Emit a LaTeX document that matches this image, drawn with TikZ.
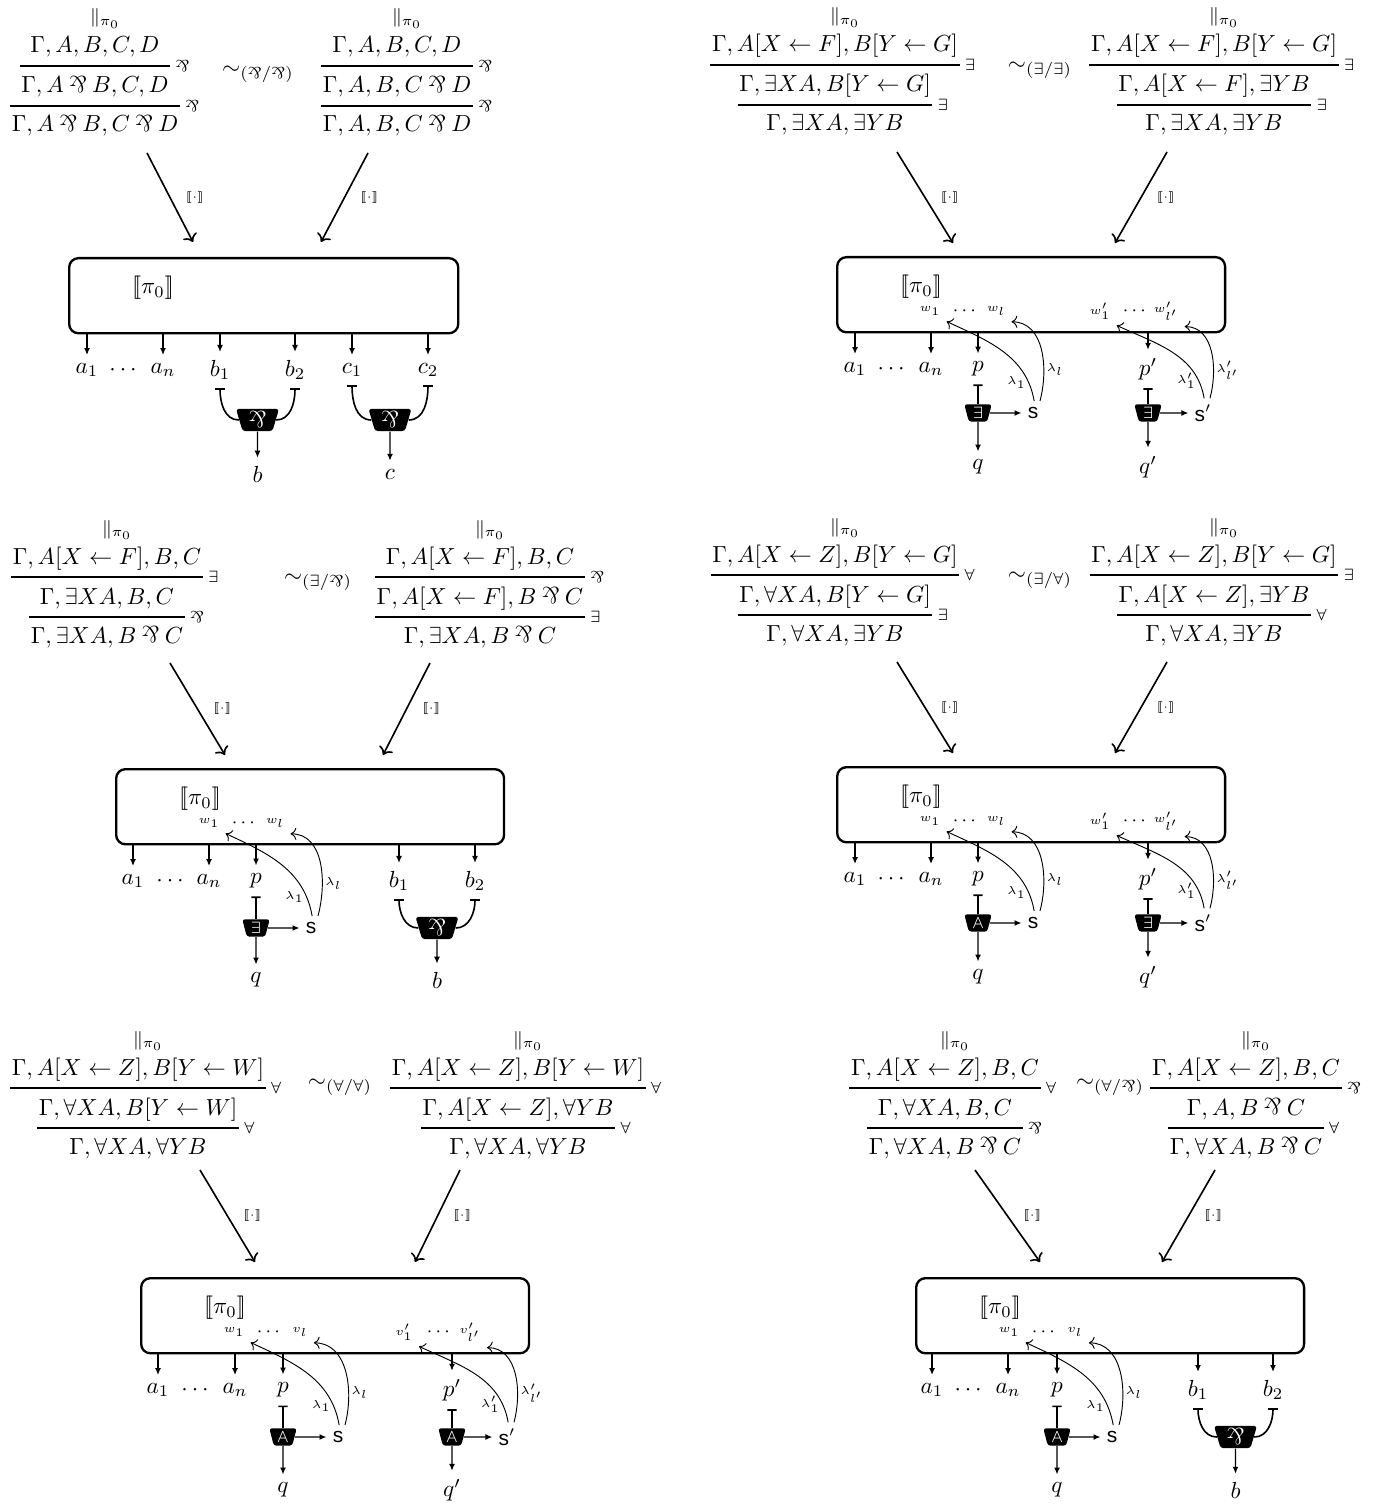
\documentclass[tikz,border=0pt]{standalone}
\usepackage{amsmath}
\usepackage{fontspec}
\setsansfont{Liberation Sans}
\usepackage{graphicx}
\usetikzlibrary{arrows.meta,positioning,shapes.geometric}
\newcommand{\invand}{\mathbin{\text{\rotatebox[origin=c]{180}{\&}}}}
\newcommand{\sem}[1]{[\![#1]\!]}
\newcommand{\pibar}{\footnotesize$\Vert\rlap{$_{\pi_0}$}$}
\newcommand{\flipall}{\scalebox{1}[-1]{$\forall$}}

\begin{document}
\begin{tikzpicture}[x=0.43pt,y=0.43pt,
  seq/.style={anchor=base, inner sep=0.5pt},
  rule/.style={line width=0.5pt},
  rlab/.style={right=1pt, font=\scriptsize, inner sep=1pt},
  semarr/.style={->, line width=0.7pt},
  semlab/.style={midway, right=3pt, font=\tiny},
  box/.style={draw, line width=1pt, rounded corners=4pt, anchor=north west, minimum width=166.8pt, minimum height=32.3pt},
  outarr/.style={-{Latex[length=3pt,width=2.6pt]}, line width=0.6pt},
  wire/.style={{Bar[width=4pt]}-, line width=0.7pt},
  parlink/.style={trapezium, trapezium stretches=true, trapezium left angle=77, trapezium right angle=77,
    shape border rotate=180, fill=black, text=white, rounded corners=1.2pt, inner sep=0pt,
    minimum width=18.5pt, minimum height=9.5pt},
  qlink/.style={parlink, minimum width=11.8pt, minimum height=7.5pt, font=\scriptsize},
  snode/.style={font=\sffamily\small, inner sep=2.5pt},
  inlab/.style={font=\tiny, inner sep=2.5pt},
  lam/.style={->, thin},
  lamlab/.style={font=\tiny, inner sep=1pt}]
\useasboundingbox (0,0) rectangle (1390,-1510);

% ---------- (par/par) ----------
\begin{scope}[shift={(68,-257)}, name prefix=a-]
\coordinate (ru1) at (0,191); \coordinate (ru2) at (0,151);
\node[seq] (l0) at (27,234) {\pibar};
\node[seq] (l1) at (27,204) {$\Gamma,A,B,C,D$};
\node[seq] (l2) at (27,164) {$\Gamma,A\invand B,C,D$};
\node[seq] (l3) at (27,125) {$\Gamma,A\invand B,C\invand D$};
\draw[rule] (l2.west |- ru1) -- (l2.east |- ru1) node[rlab] (l1r) {$\invand$};
\draw[rule] (l3.west |- ru2) -- (l3.east |- ru2) node[rlab] (l2r) {$\invand$};
\node[seq] (r0) at (329,234) {\pibar};
\node[seq] (r1) at (329,204) {$\Gamma,A,B,C,D$};
\node[seq] (r2) at (329,164) {$\Gamma,A,B,C\invand D$};
\node[seq] (r3) at (329,125) {$\Gamma,A,B,C\invand D$};
\draw[rule] (r2.west |- ru1) -- (r2.east |- ru1) node[rlab] (r1r) {$\invand$};
\draw[rule] (r3.west |- ru2) -- (r3.east |- ru2) node[rlab] (r2r) {$\invand$};
\node (sim) at (190,183) {$\sim_{(\invand/\invand)}$};
\coordinate (s0) at (79,104); \coordinate (s1) at (125,15);
\coordinate (t0) at (300,104); \coordinate (t1) at (253,15);
\draw[semarr] (s0) -- (s1) node[semlab] (sl) {$\sem{\cdot}$};
\draw[semarr] (t0) -- (t1) node[semlab] (tl) {$\sem{\cdot}$};
% net
\node[box, minimum width=167.3pt] (box) at (0,0) {};
\node (pi) at (85,-31) {$\sem{\pi_0}$};
\node (a1) at (19,-113) {$a_1$};
\node (dots) at (57,-113) {$\cdots$};
\node (an) at (95,-113) {$a_n$};
\node (b1) at (152,-113) {$b_1$};
\node (b2) at (227,-113) {$b_2$};
\node (c1) at (284,-113) {$c_1$};
\node (c2) at (360,-113) {$c_2$};
\foreach \n in {a1,an,b1,b2,c1,c2} \draw[outarr] (\n |- box.south) -- (\n);
\node[parlink] (parb) at (189.5,-163) {$\invand$};
\node[parlink] (parc) at (322,-163) {$\invand$};
\node (b) at (189.5,-217) {$b$};
\node (c) at (322,-217) {$c$};
\draw[wire] (b1.south) to[out=-90,in=180] (parb.west);
\draw[wire] (b2.south) to[out=-90,in=0] (parb.east);
\draw[wire] (c1.south) to[out=-90,in=180] (parc.west);
\draw[wire] (c2.south) to[out=-90,in=0] (parc.east);
\draw[outarr] (parb) -- (b);
\draw[outarr] (parc) -- (c);
\end{scope}

% ---------- (exists/exists) ----------
\begin{scope}[shift={(836,-256)}, name prefix=b-]
\coordinate (ru1) at (0,191); \coordinate (ru2) at (0,151);
\node[seq] (l0) at (-1,234) {\pibar};
\node[seq] (l1) at (-1,204) {$\Gamma,A[X\leftarrow F],B[Y\leftarrow G]$};
\node[seq] (l2) at (-1,164) {$\Gamma,\exists XA,B[Y\leftarrow G]$};
\node[seq] (l3) at (-1,125) {$\Gamma,\exists XA,\exists YB$};
\draw[rule] (l1.west |- ru1) -- (l1.east |- ru1) node[rlab] (l1r) {$\exists$};
\draw[rule] (l2.west |- ru2) -- (l2.east |- ru2) node[rlab] (l2r) {$\exists$};
\node[seq] (r0) at (378,234) {\pibar};
\node[seq] (r1) at (378,204) {$\Gamma,A[X\leftarrow F],B[Y\leftarrow G]$};
\node[seq] (r2) at (378,164) {$\Gamma,A[X\leftarrow F],\exists YB$};
\node[seq] (r3) at (378,125) {$\Gamma,\exists XA,\exists YB$};
\draw[rule] (r1.west |- ru1) -- (r1.east |- ru1) node[rlab] (r1r) {$\exists$};
\draw[rule] (r2.west |- ru2) -- (r2.east |- ru2) node[rlab] (r2r) {$\exists$};
\node (sim) at (204,186) {$\sim_{(\exists/\exists)}$};
\coordinate (s0) at (61,104); \coordinate (s1) at (117,13);
\coordinate (t0) at (331,104); \coordinate (t1) at (279,13);
\draw[semarr] (s0) -- (s1) node[semlab] (sl) {$\sem{\cdot}$};
\draw[semarr] (t0) -- (t1) node[semlab] (tl) {$\sem{\cdot}$};
% net
\node[box] (box) at (0,0) {};
\node (pi) at (85,-31) {$\sem{\pi_0}$};
\node (a1) at (19,-113) {$a_1$};
\node (dots) at (57,-113) {$\cdots$};
\node (an) at (95,-113) {$a_n$};
\node (p) at (142,-113) {$p$};
\node (pp) at (312,-113) {$p'$};
\foreach \n in {a1,an,p,pp} \draw[outarr] (\n |- box.south) -- (\n);
\node[inlab] (w1) at (94,-55) {$w_1$};
\node[inlab, font=\footnotesize] (wd) at (130,-55) {$\cdots$};
\node[inlab] (wl) at (160,-55) {$w_l$};
\node[inlab] (v1) at (264,-55) {$w'_1$};
\node[inlab, font=\footnotesize] (vd) at (300,-55) {$\cdots$};
\node[inlab] (vl) at (330,-55) {$w'_{l'}$};
\node[qlink] (ex) at (142,-157) {$\exists$};
\node[qlink] (exx) at (312,-157) {$\exists$};
\node[snode] (s) at (197,-157) {s};
\node[snode] (ss) at (367,-157) {s$'$};
\node (q) at (142,-211) {$q$};
\node (qq) at (312,-211) {$q'$};
\draw[wire] (p.south) -- (ex);
\draw[wire] (pp.south) -- (exx);
\draw[outarr] (ex) -- (q);
\draw[outarr] (exx) -- (qq);
\draw[outarr] (ex) -- (s);
\draw[outarr] (exx) -- (ss);
\draw[lam] ([xshift=0.5pt]s.north) to[out=100,in=-25] node[pos=0.15,left,lamlab] (la) {$\lambda_1$} (w1.south east);
\draw[lam] ([xshift=3pt]s.north) to[out=75,in=0] node[pos=0.3,right,lamlab] (lb) {$\lambda_l$} (wl.south east);
\draw[lam] ([xshift=0.5pt]ss.north) to[out=100,in=-25] node[pos=0.15,left,lamlab] (lc) {$\lambda'_1$} (v1.south east);
\draw[lam] ([xshift=3pt]ss.north) to[out=75,in=0] node[pos=0.3,right,lamlab] (ld) {$\lambda'_{l'}$} (vl.south east);
\end{scope}

% ---------- (exists/par) ----------
\begin{scope}[shift={(115,-768)}, name prefix=c-]
\coordinate (ru1) at (0,191); \coordinate (ru2) at (0,151);
\node[seq] (l0) at (-8,234) {\pibar};
\node[seq] (l1) at (-8,204) {$\Gamma,A[X\leftarrow F],B,C$};
\node[seq] (l2) at (-8,164) {$\Gamma,\exists XA,B,C$};
\node[seq] (l3) at (-8,125) {$\Gamma,\exists XA,B\invand C$};
\draw[rule] (l1.west |- ru1) -- (l1.east |- ru1) node[rlab] (l1r) {$\exists$};
\draw[rule] (l3.west |- ru2) -- (l3.east |- ru2) node[rlab] (l2r) {$\invand$};
\node[seq] (r0) at (365,234) {\pibar};
\node[seq] (r1) at (365,204) {$\Gamma,A[X\leftarrow F],B,C$};
\node[seq] (r2) at (365,164) {$\Gamma,A[X\leftarrow F],B\invand C$};
\node[seq] (r3) at (365,125) {$\Gamma,\exists XA,B\invand C$};
\draw[rule] (r2.west |- ru1) -- (r2.east |- ru1) node[rlab] (r1r) {$\invand$};
\draw[rule] (r2.west |- ru2) -- (r2.east |- ru2) node[rlab] (r2r) {$\exists$};
\node (sim) at (203,186) {$\sim_{(\exists/\invand)}$};
\coordinate (s0) at (55,105); \coordinate (s1) at (110,13);
\coordinate (t0) at (315,105); \coordinate (t1) at (268,13);
\draw[semarr] (s0) -- (s1) node[semlab] (sl) {$\sem{\cdot}$};
\draw[semarr] (t0) -- (t1) node[semlab] (tl) {$\sem{\cdot}$};
% net
\node[box] (box) at (0,0) {};
\node (pi) at (85,-31) {$\sem{\pi_0}$};
\node (a1) at (18,-113) {$a_1$};
\node (dots) at (57,-113) {$\cdots$};
\node (an) at (94,-113) {$a_n$};
\node (p) at (141,-113) {$p$};
\node (b1) at (284,-113) {$b_1$};
\node (b2) at (360,-113) {$b_2$};
\foreach \n in {a1,an,p,b1,b2} \draw[outarr] (\n |- box.south) -- (\n);
\node[inlab] (w1) at (94,-55) {$w_1$};
\node[inlab, font=\footnotesize] (wd) at (130,-55) {$\cdots$};
\node[inlab] (wl) at (160,-55) {$w_l$};
\node[qlink] (ex) at (141,-160) {$\exists$};
\node[snode] (s) at (196,-160) {s};
\node (q) at (141,-212) {$q$};
\node[parlink] (par) at (322,-160) {$\invand$};
\node (b) at (322,-212) {$b$};
\draw[wire] (p.south) -- (ex);
\draw[outarr] (ex) -- (q);
\draw[outarr] (ex) -- (s);
\draw[lam] ([xshift=0.5pt]s.north) to[out=100,in=-25] node[pos=0.15,left,lamlab] (la) {$\lambda_1$} (w1.south east);
\draw[lam] ([xshift=3pt]s.north) to[out=75,in=0] node[pos=0.3,right,lamlab] (lb) {$\lambda_l$} (wl.south east);
\draw[wire] (b1.south) to[out=-90,in=180] (par.west);
\draw[wire] (b2.south) to[out=-90,in=0] (par.east);
\draw[outarr] (par) -- (b);
\end{scope}

% ---------- (exists/forall) ----------
\begin{scope}[shift={(836,-766)}, name prefix=d-]
\coordinate (ru1) at (0,191); \coordinate (ru2) at (0,151);
\node[seq] (l0) at (-1,234) {\pibar};
\node[seq] (l1) at (-1,204) {$\Gamma,A[X\leftarrow Z],B[Y\leftarrow G]$};
\node[seq] (l2) at (-1,164) {$\Gamma,\forall XA,B[Y\leftarrow G]$};
\node[seq] (l3) at (-1,125) {$\Gamma,\forall XA,\exists YB$};
\draw[rule] (l1.west |- ru1) -- (l1.east |- ru1) node[rlab] (l1r) {$\forall$};
\draw[rule] (l2.west |- ru2) -- (l2.east |- ru2) node[rlab] (l2r) {$\exists$};
\node[seq] (r0) at (378,234) {\pibar};
\node[seq] (r1) at (378,204) {$\Gamma,A[X\leftarrow Z],B[Y\leftarrow G]$};
\node[seq] (r2) at (378,164) {$\Gamma,A[X\leftarrow Z],\exists YB$};
\node[seq] (r3) at (378,125) {$\Gamma,\forall XA,\exists YB$};
\draw[rule] (r1.west |- ru1) -- (r1.east |- ru1) node[rlab] (r1r) {$\exists$};
\draw[rule] (r2.west |- ru2) -- (r2.east |- ru2) node[rlab] (r2r) {$\forall$};
\node (sim) at (204,186) {$\sim_{(\exists/\forall)}$};
\coordinate (s0) at (61,104); \coordinate (s1) at (117,13);
\coordinate (t0) at (331,104); \coordinate (t1) at (279,13);
\draw[semarr] (s0) -- (s1) node[semlab] (sl) {$\sem{\cdot}$};
\draw[semarr] (t0) -- (t1) node[semlab] (tl) {$\sem{\cdot}$};
% net
\node[box] (box) at (0,0) {};
\node (pi) at (85,-31) {$\sem{\pi_0}$};
\node (a1) at (19,-113) {$a_1$};
\node (dots) at (57,-113) {$\cdots$};
\node (an) at (95,-113) {$a_n$};
\node (p) at (142,-113) {$p$};
\node (pp) at (312,-113) {$p'$};
\foreach \n in {a1,an,p,pp} \draw[outarr] (\n |- box.south) -- (\n);
\node[inlab] (w1) at (94,-55) {$w_1$};
\node[inlab, font=\footnotesize] (wd) at (130,-55) {$\cdots$};
\node[inlab] (wl) at (160,-55) {$w_l$};
\node[inlab] (v1) at (264,-55) {$w'_1$};
\node[inlab, font=\footnotesize] (vd) at (300,-55) {$\cdots$};
\node[inlab] (vl) at (330,-55) {$w'_{l'}$};
\node[qlink] (fa) at (142,-157) {\flipall};
\node[qlink] (exx) at (312,-157) {$\exists$};
\node[snode] (s) at (197,-157) {s};
\node[snode] (ss) at (367,-157) {s$'$};
\node (q) at (142,-211) {$q$};
\node (qq) at (312,-211) {$q'$};
\draw[wire] (p.south) -- (fa);
\draw[wire] (pp.south) -- (exx);
\draw[outarr] (fa) -- (q);
\draw[outarr] (exx) -- (qq);
\draw[outarr] (fa) -- (s);
\draw[outarr] (exx) -- (ss);
\draw[lam] ([xshift=0.5pt]s.north) to[out=100,in=-25] node[pos=0.15,left,lamlab] (la) {$\lambda_1$} (w1.south east);
\draw[lam] ([xshift=3pt]s.north) to[out=75,in=0] node[pos=0.3,right,lamlab] (lb) {$\lambda_l$} (wl.south east);
\draw[lam] ([xshift=0.5pt]ss.north) to[out=100,in=-25] node[pos=0.15,left,lamlab] (lc) {$\lambda'_1$} (v1.south east);
\draw[lam] ([xshift=3pt]ss.north) to[out=75,in=0] node[pos=0.3,right,lamlab] (ld) {$\lambda'_{l'}$} (vl.south east);
\end{scope}

% ---------- (forall/forall) ----------
\begin{scope}[shift={(140,-1277)}, name prefix=e-]
\coordinate (ru1) at (0,189); \coordinate (ru2) at (0,149);
\node[seq] (l0) at (-2,232) {\pibar};
\node[seq] (l1) at (-2,202) {$\Gamma,A[X\leftarrow Z],B[Y\leftarrow W]$};
\node[seq] (l2) at (-2,162) {$\Gamma,\forall XA,B[Y\leftarrow W]$};
\node[seq] (l3) at (-2,123) {$\Gamma,\forall XA,\forall YB$};
\draw[rule] (l1.west |- ru1) -- (l1.east |- ru1) node[rlab] (l1r) {$\forall$};
\draw[rule] (l2.west |- ru2) -- (l2.east |- ru2) node[rlab] (l2r) {$\forall$};
\node[seq] (r0) at (378,232) {\pibar};
\node[seq] (r1) at (378,202) {$\Gamma,A[X\leftarrow Z],B[Y\leftarrow W]$};
\node[seq] (r2) at (378,162) {$\Gamma,A[X\leftarrow Z],\forall YB$};
\node[seq] (r3) at (378,123) {$\Gamma,\forall XA,\forall YB$};
\draw[rule] (r1.west |- ru1) -- (r1.east |- ru1) node[rlab] (r1r) {$\forall$};
\draw[rule] (r2.west |- ru2) -- (r2.east |- ru2) node[rlab] (r2r) {$\forall$};
\node (sim) at (200,190) {$\sim_{(\forall/\forall)}$};
\coordinate (s0) at (60,107); \coordinate (s1) at (115,15);
\coordinate (t0) at (320,107); \coordinate (t1) at (275,15);
\draw[semarr] (s0) -- (s1) node[semlab] (sl) {$\sem{\cdot}$};
\draw[semarr] (t0) -- (t1) node[semlab] (tl) {$\sem{\cdot}$};
% net
\node[box] (box) at (0,0) {};
\node (pi) at (85,-31) {$\sem{\pi_0}$};
\node (a1) at (18,-113) {$a_1$};
\node (dots) at (57,-113) {$\cdots$};
\node (an) at (95,-113) {$a_n$};
\node (p) at (143,-113) {$p$};
\node (pp) at (312,-113) {$p'$};
\foreach \n in {a1,an,p,pp} \draw[outarr] (\n |- box.south) -- (\n);
\node[inlab] (w1) at (94,-55) {$w_1$};
\node[inlab, font=\footnotesize] (wd) at (130,-55) {$\cdots$};
\node[inlab] (wl) at (160,-55) {$v_l$};
\node[inlab] (v1) at (264,-55) {$v'_1$};
\node[inlab, font=\footnotesize] (vd) at (300,-55) {$\cdots$};
\node[inlab] (vl) at (330,-55) {$v'_{l'}$};
\node[qlink] (fa) at (143,-160) {\flipall};
\node[qlink] (faa) at (312,-160) {\flipall};
\node[snode] (s) at (198,-160) {s};
\node[snode] (ss) at (367,-160) {s$'$};
\node (q) at (143,-213) {$q$};
\node (qq) at (312,-213) {$q'$};
\draw[wire] (p.south) -- (fa);
\draw[wire] (pp.south) -- (faa);
\draw[outarr] (fa) -- (q);
\draw[outarr] (faa) -- (qq);
\draw[outarr] (fa) -- (s);
\draw[outarr] (faa) -- (ss);
\draw[lam] ([xshift=0.5pt]s.north) to[out=100,in=-25] node[pos=0.15,left,lamlab] (la) {$\lambda_1$} (w1.south east);
\draw[lam] ([xshift=3pt]s.north) to[out=75,in=0] node[pos=0.3,right,lamlab] (lb) {$\lambda_l$} (wl.south east);
\draw[lam] ([xshift=0.5pt]ss.north) to[out=100,in=-25] node[pos=0.15,left,lamlab] (lc) {$\lambda'_1$} (v1.south east);
\draw[lam] ([xshift=3pt]ss.north) to[out=75,in=0] node[pos=0.3,right,lamlab] (ld) {$\lambda'_{l'}$} (vl.south east);
\end{scope}

% ---------- (forall/par) ----------
\begin{scope}[shift={(915,-1277)}, name prefix=f-]
\coordinate (ru1) at (0,189); \coordinate (ru2) at (0,149);
\node[seq] (l0) at (30,232) {\pibar};
\node[seq] (l1) at (30,202) {$\Gamma,A[X\leftarrow Z],B,C$};
\node[seq] (l2) at (30,162) {$\Gamma,\forall XA,B,C$};
\node[seq] (l3) at (30,123) {$\Gamma,\forall XA,B\invand C$};
\draw[rule] (l1.west |- ru1) -- (l1.east |- ru1) node[rlab] (l1r) {$\forall$};
\draw[rule] (l3.west |- ru2) -- (l3.east |- ru2) node[rlab] (l2r) {$\invand$};
\node[seq] (r0) at (331,232) {\pibar};
\node[seq] (r1) at (331,202) {$\Gamma,A[X\leftarrow Z],B,C$};
\node[seq] (r2) at (331,162) {$\Gamma,A,B\invand C$};
\node[seq] (r3) at (331,123) {$\Gamma,\forall XA,B\invand C$};
\draw[rule] (r1.west |- ru1) -- (r1.east |- ru1) node[rlab] (r1r) {$\invand$};
\draw[rule] (r3.west |- ru2) -- (r3.east |- ru2) node[rlab] (r2r) {$\forall$};
\node (sim) at (195,190) {$\sim_{(\forall/\invand)}$};
\coordinate (s0) at (60,107); \coordinate (s1) at (125,15);
\coordinate (t0) at (300,107); \coordinate (t1) at (247,15);
\draw[semarr] (s0) -- (s1) node[semlab] (sl) {$\sem{\cdot}$};
\draw[semarr] (t0) -- (t1) node[semlab] (tl) {$\sem{\cdot}$};
% net
\node[box] (box) at (0,0) {};
\node (pi) at (85,-31) {$\sem{\pi_0}$};
\node (a1) at (17,-113) {$a_1$};
\node (dots) at (55,-113) {$\cdots$};
\node (an) at (93,-113) {$a_n$};
\node (p) at (142,-113) {$p$};
\node (b1) at (283,-113) {$b_1$};
\node (b2) at (358,-113) {$b_2$};
\foreach \n in {a1,an,p,b1,b2} \draw[outarr] (\n |- box.south) -- (\n);
\node[inlab] (w1) at (94,-55) {$w_1$};
\node[inlab, font=\footnotesize] (wd) at (130,-55) {$\cdots$};
\node[inlab] (wl) at (160,-55) {$v_l$};
\node[qlink] (fa) at (142,-160) {\flipall};
\node[snode] (s) at (197,-160) {s};
\node (q) at (142,-213) {$q$};
\node[parlink] (par) at (320.5,-160) {$\invand$};
\node (b) at (320.5,-213) {$b$};
\draw[wire] (p.south) -- (fa);
\draw[outarr] (fa) -- (q);
\draw[outarr] (fa) -- (s);
\draw[lam] ([xshift=0.5pt]s.north) to[out=100,in=-25] node[pos=0.15,left,lamlab] (la) {$\lambda_1$} (w1.south east);
\draw[lam] ([xshift=3pt]s.north) to[out=75,in=0] node[pos=0.3,right,lamlab] (lb) {$\lambda_l$} (wl.south east);
\draw[wire] (b1.south) to[out=-90,in=180] (par.west);
\draw[wire] (b2.south) to[out=-90,in=0] (par.east);
\draw[outarr] (par) -- (b);
\end{scope}
\end{tikzpicture}
\end{document}
